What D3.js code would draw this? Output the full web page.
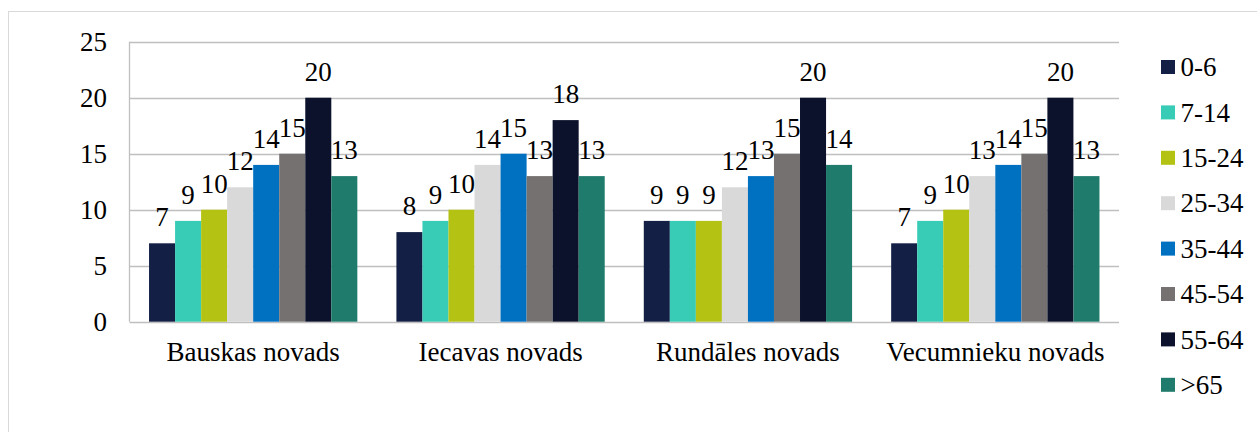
<!DOCTYPE html>
<html>
<head>
    <meta charset="UTF-8">
    <script src="https://d3js.org/d3.v7.min.js"></script>
</head>
<body style="margin:0">
    <script>
        // novadi and age groups
        const categories = ["Bauskas novads", "Iecavas novads", "Rundāles novads", "Vecumnieku novads"];
        const ageGroups = ["0-6", "7-14", "15-24", "25-34", "35-44", "45-54", "55-64", ">65"];
        const bauskas = [7, 9, 10, 12, 14, 15, 20, 13];
        const iecavas = [8, 9, 10, 14, 15, 13, 18, 13];
        const rundales = [9, 9, 9, 12, 13, 15, 20, 14];
        const vecumnieku = [7, 9, 10, 13, 14, 15, 20, 13];
        const yTicks = [0, 5, 10, 15, 20, 25];
        const colors = ["#131f45", "#38cbb5", "#b4c313", "#d9d9d9", "#0070c0", "#767171", "#0c122b", "#1f7b6b"];

        const seriesByCat = [bauskas, iecavas, rundales, vecumnieku];

        const width = 1257, height = 432;
        const margin = { top: 41.7, right: 138, bottom: 110.3, left: 129.5 };
        const fontSize = "27px";
        const serif = d => '"Liberation Serif"';

        const svg = d3.select("body").append("svg")
            .attr("width", width)
            .attr("height", height);

        // outer chart border
        svg.append("rect")
            .attr("x", 8.5).attr("y", 11.5)
            .attr("width", 1260).attr("height", 440)
            .attr("fill", "none")
            .attr("stroke", "#d9d9d9")
            .attr("stroke-width", 1);

        const x0 = d3.scaleBand()
            .domain(categories)
            .range([margin.left, width - margin.right])
            .padding(0);

        const gap = x0.bandwidth() * 0.079;
        const x1 = d3.scaleBand()
            .domain(ageGroups)
            .range([gap, x0.bandwidth() - gap])
            .padding(0);

        const y = d3.scaleLinear()
            .domain([0, 25])
            .range([height - margin.bottom, margin.top]);

        // gridlines
        svg.append("g")
            .selectAll("line")
            .data(yTicks)
            .enter()
            .append("line")
            .attr("x1", margin.left)
            .attr("x2", width - margin.right)
            .attr("y1", d => Math.round(y(d)) + 0.5)
            .attr("y2", d => Math.round(y(d)) + 0.5)
            .attr("stroke", "#bfbfbf")
            .attr("stroke-width", 1.3);

        // left axis line
        svg.append("line")
            .attr("x1", margin.left).attr("x2", margin.left)
            .attr("y1", y(25)).attr("y2", y(0))
            .attr("stroke", "#bfbfbf")
            .attr("stroke-width", 1.3);

        // y tick labels
        svg.append("g")
            .selectAll("text")
            .data(yTicks)
            .enter()
            .append("text")
            .attr("x", 107)
            .attr("y", d => y(d))
            .attr("dy", "0.34em")
            .attr("text-anchor", "end")
            .style("font-family", serif, "important")
            .style("font-size", fontSize)
            .text(d => d);

        // bars
        const groups = svg.append("g")
            .selectAll("g")
            .data(categories)
            .enter()
            .append("g")
            .attr("transform", d => `translate(${x0(d)},0)`);

        groups.selectAll("rect")
            .data((d, i) => seriesByCat[i].map((v, j) => ({ key: ageGroups[j], value: v, color: colors[j] })))
            .enter()
            .append("rect")
            .attr("x", d => x1(d.key))
            .attr("width", x1.bandwidth())
            .attr("y", d => y(d.value))
            .attr("height", d => y(0) - y(d.value))
            .attr("fill", d => d.color);

        // data labels
        groups.selectAll("text")
            .data((d, i) => seriesByCat[i].map((v, j) => ({ key: ageGroups[j], value: v })))
            .enter()
            .append("text")
            .attr("x", d => x1(d.key) + x1.bandwidth() / 2)
            .attr("y", d => y(d.value) - 17)
            .attr("text-anchor", "middle")
            .style("font-family", serif, "important")
            .style("font-size", fontSize)
            .text(d => d.value);

        // category labels
        svg.append("g")
            .selectAll("text")
            .data(categories)
            .enter()
            .append("text")
            .attr("x", d => x0(d) + x0.bandwidth() / 2)
            .attr("y", 360.5)
            .attr("text-anchor", "middle")
            .style("font-family", serif, "important")
            .style("font-size", fontSize)
            .text(d => d);

        // legend
        const legend = svg.append("g")
            .selectAll("g")
            .data(ageGroups)
            .enter()
            .append("g")
            .attr("transform", (d, i) => `translate(1161,${60 + i * 45.4})`);

        legend.append("rect")
            .attr("width", 14)
            .attr("height", 14)
            .attr("fill", (d, i) => colors[i]);

        legend.append("text")
            .attr("x", 19.5)
            .attr("y", 7)
            .attr("dy", "0.34em")
            .style("font-family", serif, "important")
            .style("font-size", fontSize)
            .text(d => d);
    </script>
</body>
</html>
